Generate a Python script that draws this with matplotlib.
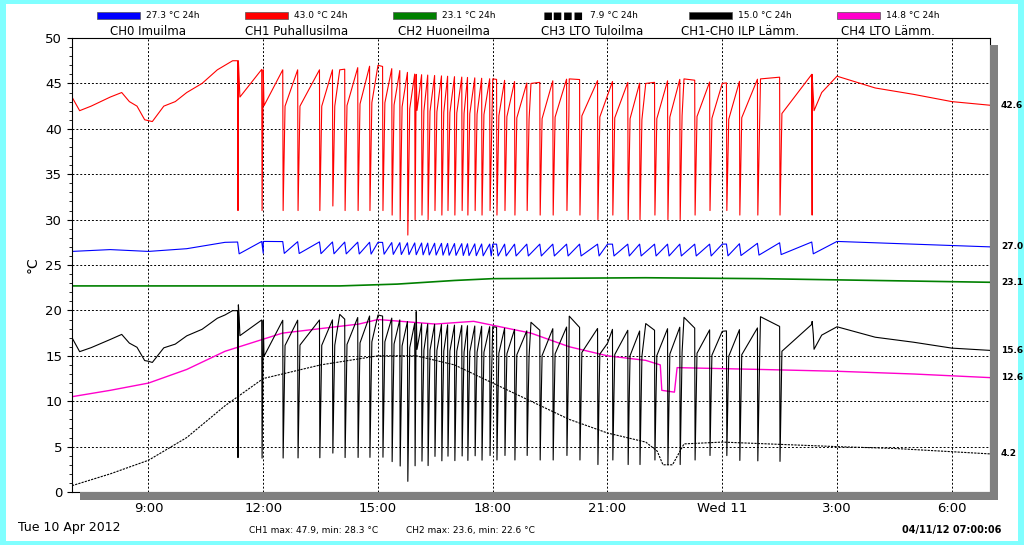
import numpy as np
import matplotlib.pyplot as plt

# 1. mittausdata (tunnit klo 7:00 alkaen, arvot luettu kuvaajasta)
red_base = [(7.0, 43.5), (7.2, 42.0), (7.5, 42.5), (8.0, 43.5), (8.3, 44.0), (8.5, 43.0),
            (8.7, 42.5), (8.9, 41.0), (9.1, 40.8), (9.4, 42.5), (9.7, 43.0), (10.0, 44.0),
            (10.4, 45.0), (10.8, 46.5), (11.2, 47.5), (11.35, 47.5), (12.0, 46.5), (14.0, 46.5),
            (15.0, 47.0), (16.0, 46.0), (18.0, 45.5), (19.0, 45.0), (20.0, 45.5), (22.0, 45.0),
            (23.0, 45.5), (24.0, 45.0), (25.0, 45.5), (26.35, 46.0), (26.6, 44.0), (27.0, 45.8),
            (28.0, 44.5), (29.0, 43.8), (30.0, 43.0), (31.0, 42.6)]
# piikit: (aika, minimi)
spikes = [(11.34, 31), (11.97, 31), (12.52, 31), (12.91, 31), (13.48, 31), (13.82, 31.5),
          (14.14, 31), (14.48, 31), (14.79, 31), (15.13, 31), (15.37, 30.5), (15.58, 30),
          (15.78, 28.3), (15.97, 30), (16.15, 30.5), (16.31, 30), (16.49, 31), (16.67, 30.5),
          (16.83, 31), (17.01, 30.5), (17.20, 31), (17.35, 30.5), (17.54, 31), (17.72, 30.5),
          (17.93, 31), (18.11, 30.5), (18.32, 31), (18.58, 30.5), (18.90, 31), (19.24, 30.5),
          (19.58, 30.5), (19.94, 31), (20.28, 30.5), (20.75, 30), (21.14, 30.5), (21.54, 30),
          (21.85, 30), (22.24, 30.5), (22.58, 30), (22.90, 30), (23.29, 30.5), (23.68, 31),
          (24.12, 31), (24.46, 30.5), (24.93, 30.5), (25.51, 30.5), (26.35, 30.5)]
blue_base = [(7.0, 26.5), (8.0, 26.7), (9.0, 26.5), (10.0, 26.8), (11.0, 27.5), (12.0, 27.6),
             (15.0, 27.5), (18.0, 27.3), (21.0, 27.3), (24.0, 27.3), (27.0, 27.6), (31.0, 27.0)]
green = [(7.0, 22.7), (14.0, 22.7), (15.5, 22.9), (17.0, 23.3), (18.0, 23.5), (22.0, 23.6),
         (25.0, 23.5), (28.0, 23.3), (31.0, 23.1)]
magenta = [(7.0, 10.5), (8.0, 11.2), (9.0, 12.0), (10.0, 13.5), (11.0, 15.5), (12.5, 17.5),
           (14.5, 18.5), (15.0, 19.0), (16.5, 18.5), (17.5, 18.8), (19.0, 17.5), (20.0, 16.0),
           (21.0, 15.0), (22.0, 14.5), (22.38, 14.0), (22.42, 11.2), (22.75, 11.0),
           (22.82, 13.7), (25.0, 13.5), (27.0, 13.3), (29.0, 13.0), (31.0, 12.6)]
dotted = [(7.0, 0.7), (8.0, 2.0), (9.0, 3.5), (10.0, 6.0), (11.0, 9.5), (12.0, 12.5),
          (13.5, 14.0), (15.0, 15.0), (16.0, 15.0), (17.0, 14.0), (18.0, 12.0), (19.0, 10.0),
          (20.0, 8.0), (21.0, 6.5), (22.0, 5.5), (22.3, 4.5), (22.45, 3.0), (22.7, 3.0),
          (23.0, 5.3), (24.0, 5.5), (27.0, 5.0), (28.5, 4.8), (31.0, 4.2)]

# 2. sarjojen rakentaminen
bt, bv = zip(*red_base)
lt, lv = zip(*blue_base)
red_pts = list(red_base)
blue_pts = list(blue_base)
for t, m in spikes:
    top = np.interp(t, bt, bv)
    red_pts += [(t - 0.01, top), (t, m), (t + 0.05, top - 4)]
    low = np.interp(t, lt, lv)
    blue_pts += [(t - 0.01, low), (t + 0.03, low - 1.3)]
red_pts.sort()
blue_pts.sort()
rt, rv = map(np.array, zip(*red_pts))
ct, cv = map(np.array, zip(*blue_pts))
grid = np.union1d(rt, ct)
diff = np.interp(grid, rt, rv) - np.interp(grid, ct, cv)  # CH1-CH0

# 3. kuvaaja
fig = plt.figure(figsize=(10.24, 5.45), dpi=100, facecolor='#80ffff')
fig.patches.append(plt.Rectangle((0.006, 0.008), 0.988, 0.984, transform=fig.transFigure,
                                 facecolor='white', edgecolor='none', zorder=-1))
ax = fig.add_axes([0.0703, 0.0972, 0.8965, 0.833])
ax.plot(rt, rv, color='red', lw=0.8)
ax.plot(ct, cv, color='blue', lw=0.8)
ax.plot(*zip(*green), color='green', lw=1.2)
ax.plot(*zip(*magenta), color='#ff00cc', lw=1.0)
ax.plot(*zip(*dotted), color='black', lw=0.8, ls=(0, (2, 1)))
ax.plot(grid, diff, color='black', lw=0.8)

ax.set_xlim(7, 31)
ax.set_ylim(0, 50)
ax.set_xticks([9, 12, 15, 18, 21, 24, 27, 30])
ax.set_xticklabels(['9:00', '12:00', '15:00', '18:00', '21:00', 'Wed 11', '3:00', '6:00'])
ax.set_xticks(np.arange(8, 31), minor=True)
ax.set_yticks(np.arange(0, 51, 5))
ax.set_yticks(np.arange(0, 51, 1), minor=True)
ax.tick_params(labelsize=9.5)
ax.grid(True, which='major', color='black', ls=(0, (2, 2)), lw=0.7)
ax.set_ylabel('°C')

# oikean reunan arvot
for v, s in [(42.6, '42.6'), (27.0, '27.0'), (23.1, '23.1'), (15.6, '15.6'), (12.6, '12.6'), (4.2, '4.2')]:
    ax.text(1.012, v, s, transform=ax.get_yaxis_transform(), fontsize=6.5, fontweight='bold', va='center')
# varjo
fig.patches.append(plt.Rectangle((0.967, 0.082), 0.008, 0.835, transform=fig.transFigure,
                                 facecolor='#808080', edgecolor='none'))
fig.patches.append(plt.Rectangle((0.078, 0.082), 0.897, 0.016, transform=fig.transFigure,
                                 facecolor='#808080', edgecolor='none'))

# otsikot ja selite
names = ['CH0 Imuilma', 'CH1 Puhallusilma', 'CH2 Huoneilma', 'CH3 LTO Tuloilma', 'CH1-CH0 ILP Lämm.', 'CH4 LTO Lämm.']
vals = ['27.3 °C 24h', '43.0 °C 24h', '23.1 °C 24h', '7.9 °C 24h', '15.0 °C 24h', '14.8 °C 24h']
cols = ['blue', 'red', 'green', 'black', 'black', '#ff00cc']
for i in range(6):
    x0 = 0.145 + i * 0.1445
    fig.text(x0, 0.942, names[i], ha='center', va='center', fontsize=8.5)
    if i == 3:
        fig.text(x0 - 0.008, 0.972, '▪▪▪▪', ha='right', va='center', fontsize=11)
    else:
        fig.patches.append(plt.Rectangle((x0 - 0.05, 0.966), 0.042, 0.012, transform=fig.transFigure,
                                         facecolor=cols[i], edgecolor='#555555', lw=0.5))
    fig.text(x0 - 0.002, 0.972, vals[i], va='center', fontsize=6.5)

fig.text(0.018, 0.025, 'Tue 10 Apr 2012', fontsize=9)
fig.text(0.243, 0.022, 'CH1 max: 47.9, min: 28.3 °C', fontsize=6.5)
fig.text(0.396, 0.022, 'CH2 max: 23.6, min: 22.6 °C', fontsize=6.5)
fig.text(0.978, 0.022, '04/11/12 07:00:06', fontsize=7, fontweight='bold', ha='right')
plt.savefig('out.png', dpi=100)
